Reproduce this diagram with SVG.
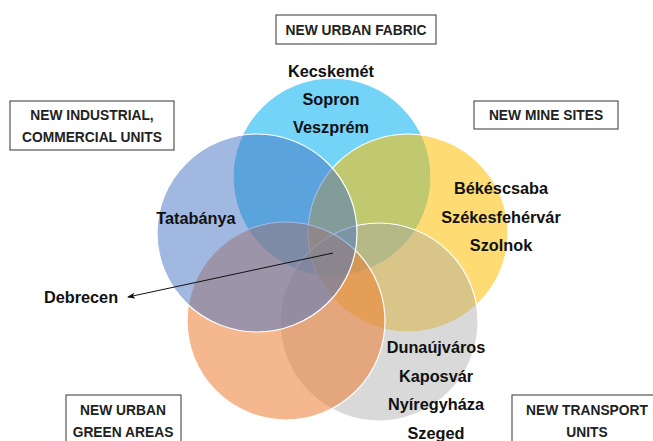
<svg xmlns="http://www.w3.org/2000/svg" width="653" height="441" viewBox="0 0 653 441">
<style>
.lbl{font-family:"Liberation Sans",Arial,sans-serif;font-weight:bold;font-size:13.8px;fill:#222;text-anchor:middle}
.city{font-family:"Liberation Sans",Arial,sans-serif;font-weight:bold;font-size:16.3px;fill:#111;text-anchor:middle}
.box{fill:#fff;stroke:#555;stroke-width:1.2}
.set{stroke:#fff;stroke-width:1.2}
</style>
<defs>
<marker id="ah" markerWidth="8" markerHeight="6" refX="7" refY="3" orient="auto" markerUnits="userSpaceOnUse">
<path d="M0,0 L8,3 L0,6 L2,3 Z" fill="#111"/>
</marker>
</defs>
<rect width="653" height="441" fill="#fff"/>
<g id="set-urban-fabric"><ellipse class="set" cx="332" cy="177" rx="99" ry="99" fill="#00B0F0" fill-opacity="0.55"/></g>
<g id="set-mine-sites"><ellipse class="set" cx="408" cy="233" rx="100" ry="99" fill="#FFC000" fill-opacity="0.55"/></g>
<g id="set-transport"><ellipse class="set" cx="379" cy="322" rx="99" ry="99" fill="#A5A5A5" fill-opacity="0.42"/></g>
<g id="set-green-areas"><ellipse class="set" cx="286" cy="321" rx="99" ry="99" fill="#ED7D31" fill-opacity="0.55"/></g>
<g id="set-industrial"><ellipse class="set" cx="257" cy="233" rx="100" ry="99" fill="#4472C4" fill-opacity="0.5"/></g>

<g id="box-urban-fabric"><rect class="box" x="276" y="15" width="160" height="29"/><text class="lbl" x="356" y="34.5">NEW URBAN FABRIC</text></g>
<g id="box-industrial"><rect class="box" x="10" y="101" width="164" height="49"/><text class="lbl" x="92" y="120">NEW INDUSTRIAL,</text><text class="lbl" x="92" y="142">COMMERCIAL UNITS</text></g>
<g id="box-mine-sites"><rect class="box" x="474" y="101" width="144" height="28"/><text class="lbl" x="546" y="120">NEW MINE SITES</text></g>
<g id="box-green-areas"><rect class="box" x="66" y="395" width="115" height="50"/><text class="lbl" x="123" y="415">NEW URBAN</text><text class="lbl" x="123" y="437">GREEN AREAS</text></g>
<g id="box-transport"><rect class="box" x="512" y="395" width="145" height="50"/><text class="lbl" x="587" y="415">NEW TRANSPORT</text><text class="lbl" x="587" y="437">UNITS</text></g>

<g id="cities">
<text class="city" x="331" y="77">Kecskemét</text>
<text class="city" x="331" y="105">Sopron</text>
<text class="city" x="331" y="133">Veszprém</text>
<text class="city" x="196" y="224">Tatabánya</text>
<text class="city" x="501" y="194">Békéscsaba</text>
<text class="city" x="501" y="223">Székesfehérvár</text>
<text class="city" x="501" y="251">Szolnok</text>
<text class="city" x="81" y="303">Debrecen</text>
<text class="city" x="436" y="353">Dunaújváros</text>
<text class="city" x="436" y="382">Kaposvár</text>
<text class="city" x="436" y="410">Nyíregyháza</text>
<text class="city" x="436" y="439">Szeged</text>
</g>
<g id="connectors">
<line x1="333" y1="253" x2="128" y2="297" stroke="#111" stroke-width="1" marker-end="url(#ah)"/>
</g>
</svg>
